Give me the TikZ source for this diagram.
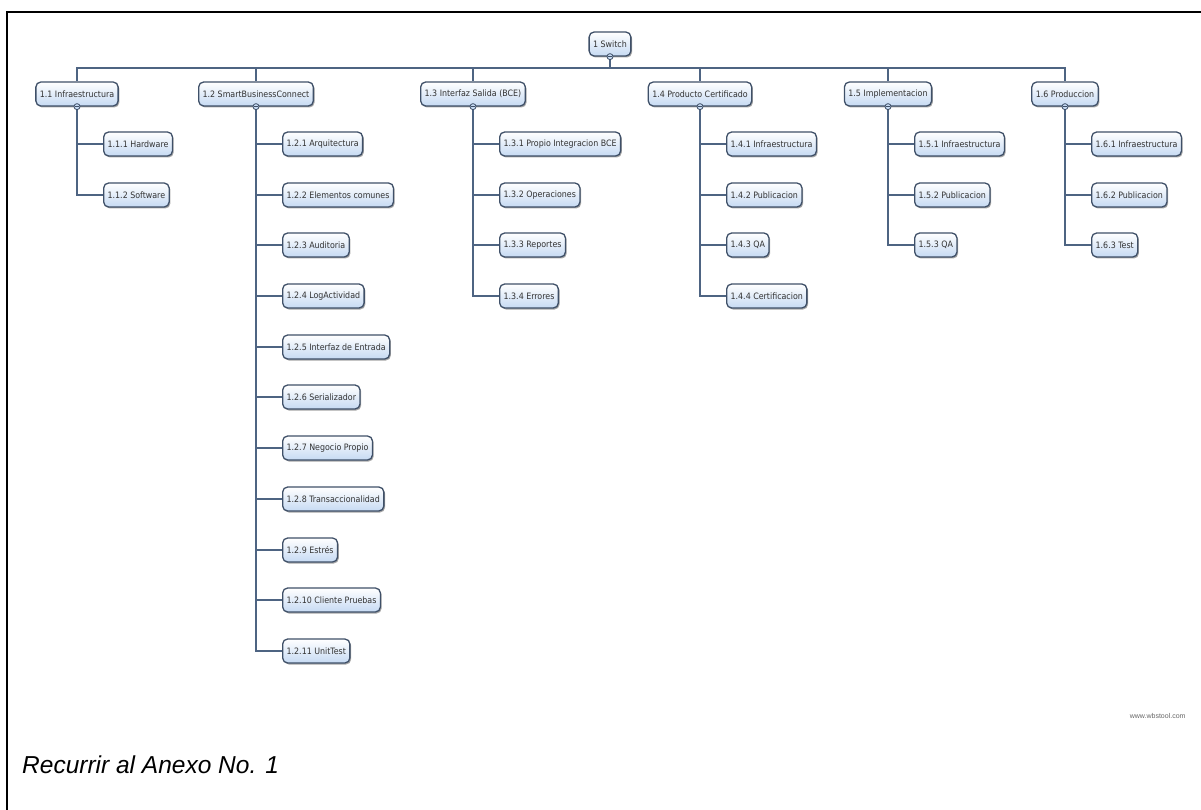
\documentclass[tikz,border=0pt]{standalone}
\usepackage{fontspec}
\setmainfont{Liberation Sans}
\newfontfamily\wbsfont{DejaVu Sans Condensed}
\usetikzlibrary{shadows}
\pgfdeclarelayer{background}
\pgfsetlayers{background,main}
\definecolor{wbsline}{HTML}{4E6482}
\definecolor{wbsedge}{HTML}{3F5068}
\definecolor{wbsfill}{HTML}{C6DAF3}
\tikzset{
  task/.style={draw=wbsedge, line width=1.3pt, rounded corners=5pt,
    top color=white, bottom color=wbsfill,
    font=\wbsfont\fontsize{8.8}{10}\selectfont, text=black!80,
    minimum height=24pt, inner xsep=4pt, inner ysep=0pt,
    drop shadow={shadow xshift=1.2pt, shadow yshift=-1.5pt, opacity=0.35, fill=black}},
  link/.style={draw=wbsline, line width=2pt},
  knob/.style={circle, draw=wbsedge, fill=wbsfill, line width=0.8pt,
    inner sep=0pt, minimum size=6pt,
    path picture={\draw[wbsedge, line width=0.5pt]
      ([xshift=-1.8pt]path picture bounding box.center) --
      ([xshift=1.8pt]path picture bounding box.center);}},
  frame/.style={line width=2pt, draw=black},
}
\begin{document}
\begin{tikzpicture}[x=1pt, y=-1pt]
\useasboundingbox (0,0) rectangle (1201,810);

% page frame (top and left rules)
\draw[frame] (7,810) -- (7,12) -- (1201,12);

% root
\node[task] (n1) at (610,44) {1 Switch};
\coordinate (bus) at (610,68);

% level 1
\node[task] (n11) at (77,94)   {1.1 Infraestructura};
\node[task] (n12) at (256,94)  {1.2 SmartBusinessConnect};
\node[task] (n13) at (473,94)  {1.3 Interfaz Salida (BCE)};
\node[task] (n14) at (700,94)  {1.4 Producto Certificado};
\node[task] (n15) at (888,94)  {1.5 Implementacion};
\node[task] (n16) at (1065,94) {1.6 Produccion};

% 1.1
\node[task, anchor=west] (n111) at (103,144) {1.1.1 Hardware};
\node[task, anchor=west] (n112) at (103,195) {1.1.2 Software};

% 1.2
\node[task, anchor=west] (n121)  at (282,144) {1.2.1 Arquitectura};
\node[task, anchor=west] (n122)  at (282,195) {1.2.2 Elementos comunes};
\node[task, anchor=west] (n123)  at (282,245) {1.2.3 Auditoria};
\node[task, anchor=west] (n124)  at (282,296) {1.2.4 LogActividad};
\node[task, anchor=west] (n125)  at (282,347) {1.2.5 Interfaz de Entrada};
\node[task, anchor=west] (n126)  at (282,397) {1.2.6 Serializador};
\node[task, anchor=west] (n127)  at (282,448) {1.2.7 Negocio Propio};
\node[task, anchor=west] (n128)  at (282,499) {1.2.8 Transaccionalidad};
\node[task, anchor=west] (n129)  at (282,550) {1.2.9 Estrés};
\node[task, anchor=west] (n1210) at (282,600) {1.2.10 Cliente Pruebas};
\node[task, anchor=west] (n1211) at (282,651) {1.2.11 UnitTest};

% 1.3
\node[task, anchor=west] (n131) at (499,144) {1.3.1 Propio Integracion BCE};
\node[task, anchor=west] (n132) at (499,195) {1.3.2 Operaciones};
\node[task, anchor=west] (n133) at (499,245) {1.3.3 Reportes};
\node[task, anchor=west] (n134) at (499,296) {1.3.4 Errores};

% 1.4
\node[task, anchor=west] (n141) at (726,144) {1.4.1 Infraestructura};
\node[task, anchor=west] (n142) at (726,195) {1.4.2 Publicacion};
\node[task, anchor=west] (n143) at (726,245) {1.4.3 QA};
\node[task, anchor=west] (n144) at (726,296) {1.4.4 Certificacion};

% 1.5
\node[task, anchor=west] (n151) at (914,144) {1.5.1 Infraestructura};
\node[task, anchor=west] (n152) at (914,195) {1.5.2 Publicacion};
\node[task, anchor=west] (n153) at (914,245) {1.5.3 QA};

% 1.6
\node[task, anchor=west] (n161) at (1091,144) {1.6.1 Infraestructura};
\node[task, anchor=west] (n162) at (1091,195) {1.6.2 Publicacion};
\node[task, anchor=west] (n163) at (1091,245) {1.6.3 Test};

% connectors, behind the boxes
\begin{pgfonlayer}{background}
  \foreach \k in {n11,n12,n13,n14,n15,n16}
    \draw[link] (n1.south) -- (bus) -- (bus -| \k.north) -- (\k.north);
  \foreach \k in {n111,n112}
    \draw[link] (n11.south) |- (\k.west);
  \foreach \k in {n121,n122,n123,n124,n125,n126,n127,n128,n129,n1210,n1211}
    \draw[link] (n12.south) |- (\k.west);
  \foreach \k in {n131,n132,n133,n134}
    \draw[link] (n13.south) |- (\k.west);
  \foreach \k in {n141,n142,n143,n144}
    \draw[link] (n14.south) |- (\k.west);
  \foreach \k in {n151,n152,n153}
    \draw[link] (n15.south) |- (\k.west);
  \foreach \k in {n161,n162,n163}
    \draw[link] (n16.south) |- (\k.west);
\end{pgfonlayer}

% collapse knobs under the parent boxes
\foreach \k in {n1,n11,n12,n13,n14,n15,n16}
  \node[knob] (\k-knob) at (\k.south) {};

% footer texts
\node[font=\fontsize{7}{8}\selectfont, text=black!60, anchor=east] (credit) at (1189,716) {www.wbstool.com};
\node[font=\itshape\fontsize{24.5}{28}\selectfont, anchor=base west, inner sep=0pt] (caption) at (22,773) {Recurrir al Anexo No. 1};
\end{tikzpicture}
\end{document}
